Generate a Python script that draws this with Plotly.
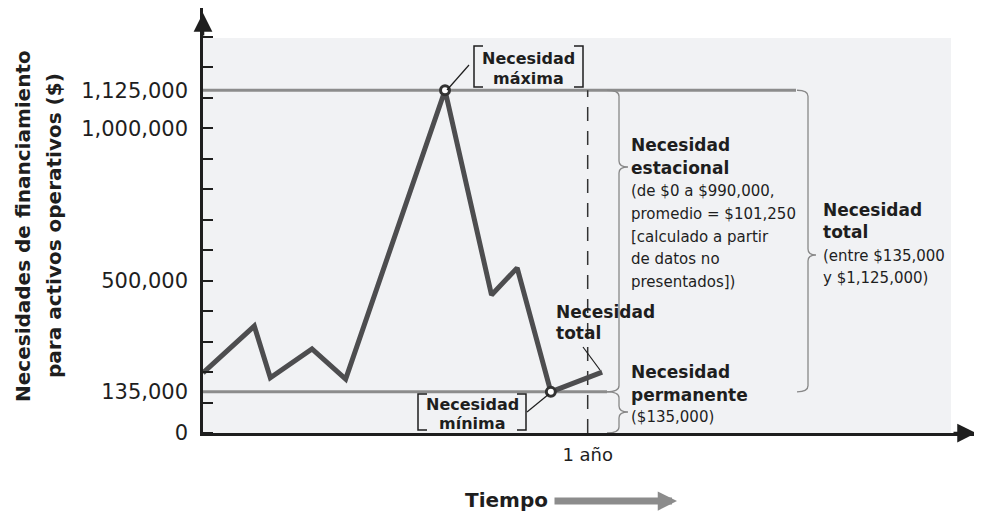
import plotly.graph_objects as go

# meses dentro del periodo y necesidad de financiamiento ($)
meses = [0, 1.6, 2.1, 3.4, 4.45, 7.55, 9.0, 9.8, 10.85, 12.45]
necesidad = [197000, 351000, 181000, 276000, 177000, 1125000, 453000, 542000, 135000, 200000]

necesidad_max = 1125000
necesidad_min = 135000
mes_max = 7.55
mes_min = 10.85
un_anio = 12

y_ticks = [0, 135000, 500000, 1000000, 1125000]
y_tick_text = ['0', '135,000', '500,000', '1,000,000', '1,125,000']

# plot area on the page (px) and axis ranges; page body adds an 8px offset
L, R, T, B = 203, 982, 8, 433
OFF = 8
XMAX = 24.3
YMAX = 1395000
FONT = 'DejaVu Sans'
INK = '#1e1e1e'


def X(px):
    return (px - L) / (R - L) * XMAX


def Y(py):
    return (B - py) / (B - T) * YMAX


def PX(px):
    return (px - L) / (R - L)


def PY(py):
    return (B - py) / (B - T)


fig = go.Figure()

# gray background panel
fig.add_shape(type='rect', x0=0, x1=X(951), y0=0, y1=Y(38), fillcolor='#f1f2f4',
              line_width=0, layer='below')
# permanent / max levels
fig.add_shape(type='line', x0=0, x1=X(796), y0=necesidad_max, y1=necesidad_max,
              line=dict(color='#8c8c8c', width=3), layer='below')
fig.add_shape(type='line', x0=0, x1=X(607), y0=necesidad_min, y1=necesidad_min,
              line=dict(color='#8c8c8c', width=3), layer='below')
# 1 year dashed line
fig.add_shape(type='line', x0=un_anio, x1=un_anio, y0=0, y1=necesidad_max,
              line=dict(color='#333333', width=1.5, dash='14px,10px'), layer='below')

fig.add_trace(go.Scatter(x=meses, y=necesidad, mode='lines',
                         line=dict(color='#4d4d4f', width=5), hoverinfo='skip'))
fig.add_trace(go.Scatter(x=[mes_max, mes_min], y=[necesidad_max, necesidad_min], mode='markers',
                         marker=dict(size=9, color='white', line=dict(color='#333333', width=3)),
                         hoverinfo='skip'))


def brace(xb, xl, xt, yt, yb, ytip, r=6):
    # right curly brace, x in px, y in data
    d = r / (B - T) * YMAX
    xb, xl, xt = X(xb), X(xl), X(xt)
    p = (f'M{xb},{yt} Q{xl},{yt} {xl},{yt - d} L{xl},{ytip + d} '
         f'Q{xl},{ytip} {xt},{ytip} Q{xl},{ytip} {xl},{ytip - d} '
         f'L{xl},{yb + d} Q{xl},{yb} {xb},{yb}')
    fig.add_shape(type='path', path=p, line=dict(color='#888888', width=1.3))


brace(607, 619, 628, necesidad_max, necesidad_min, Y(167))
brace(607, 619, 628, necesidad_min, 0, Y(412))
brace(797, 808, 816, necesidad_max, necesidad_min, Y(255))


def brackets(x0, x1, y0, y1, cap=9):
    left = f'M{X(x0 + cap)},{Y(y0)} L{X(x0)},{Y(y0)} L{X(x0)},{Y(y1)} L{X(x0 + cap)},{Y(y1)}'
    right = f'M{X(x1 - cap)},{Y(y0)} L{X(x1)},{Y(y0)} L{X(x1)},{Y(y1)} L{X(x1 - cap)},{Y(y1)}'
    for p in (left, right):
        fig.add_shape(type='path', path=p, line=dict(color=INK, width=1.5))


brackets(474, 583, 46, 87)
brackets(418, 526, 394, 430)

# leader lines
for (a, b, c, d) in [(447, 90, 469, 65), (549, 394, 527, 412), (583, 347, 600, 370)]:
    fig.add_shape(type='line', x0=X(a), y0=Y(b), x1=X(c), y1=Y(d), line=dict(color=INK, width=1.2))


def txt(px, py, s, size=15, bold=False, anchor='left'):
    if bold:
        s = '<b>' + s + '</b>'
    fig.add_annotation(x=X(px), y=Y(py), text=s, showarrow=False, xanchor=anchor,
                       yanchor='middle', font=dict(family=FONT, size=size, color=INK),
                       borderpad=0)


txt(528, 58, 'Necesidad', 16, True, 'center')
txt(528, 78, 'máxima', 16, True, 'center')
txt(472, 404, 'Necesidad', 16, True, 'center')
txt(472, 423, 'mínima', 16, True, 'center')

txt(630, 145, 'Necesidad', 17, True)
txt(630, 168, 'estacional', 17, True)
for py, s in [(191, '(de $0 a $990,000,'), (214, 'promedio = $101,250'),
              (237, '[calculado a partir'), (259, 'de datos no'), (282, 'presentados])')]:
    txt(630, py, s, 15)

txt(555, 312, 'Necesidad', 17, True)
txt(555, 333, 'total', 17, True)

txt(630, 372, 'Necesidad', 17, True)
txt(630, 395, 'permanente', 17, True)
txt(630, 417, '($135,000)', 15)

txt(822, 210, 'Necesidad', 17, True)
txt(822, 232, 'total', 17, True)
txt(822, 256, '(entre $135,000', 15)
txt(822, 278, 'y $1,125,000)', 15)

# axis title
for px, s in [(23, 'Necesidades de financiamiento'), (54, 'para activos operativos ($)')]:
    fig.add_annotation(x=PX(px), y=PY(226), xref='paper', yref='paper',
                       xanchor='center', yanchor='middle',
                       text='<b>' + s + '</b>', textangle=-90, showarrow=False,
                       font=dict(family=FONT, size=20, color=INK))

# Tiempo + gray arrow
fig.add_annotation(x=PX(506), y=PY(500), xref='paper', yref='paper', xanchor='center',
                   yanchor='middle', text='<b>Tiempo</b>', showarrow=False,
                   font=dict(family=FONT, size=20, color=INK))
fig.add_annotation(x=PX(677), y=PY(501), xref='paper', yref='paper',
                   text='', showarrow=True, ax=-124, ay=0, arrowhead=2, arrowsize=0.55,
                   arrowwidth=7, arrowcolor='#8c8c8c')

# axis arrowheads
fig.add_annotation(x=X(976), y=0, text='', showarrow=True, ax=-24, ay=0, arrowhead=2,
                   arrowsize=1.5, arrowwidth=2.5, arrowcolor=INK)
fig.add_annotation(x=0, y=Y(13), text='', showarrow=True, ax=0, ay=24, arrowhead=2,
                   arrowsize=1.5, arrowwidth=2.5, arrowcolor=INK)

fig.update_xaxes(range=[0, XMAX], showgrid=False, zeroline=False, showline=True,
                 linecolor=INK, linewidth=2.5, tickvals=[un_anio], ticktext=['1 año'],
                 ticks='', ticklabelstandoff=4, tickfont=dict(family=FONT, size=18, color=INK))
fig.update_yaxes(range=[0, YMAX], showgrid=False, zeroline=False, showline=True,
                 linecolor=INK, linewidth=2.5, tickvals=y_ticks, ticktext=y_tick_text,
                 ticks='', ticklabelstandoff=8, tickfont=dict(family=FONT, size=21, color=INK),
                 minor=dict(tick0=0, dtick=100000, ticks='inside', ticklen=10, tickwidth=2,
                            tickcolor=INK))

fig.update_layout(width=982, height=512,
                  margin=dict(l=L - OFF, r=982 - R + OFF, t=T - OFF, b=512 - B + OFF,
                              autoexpand=False),
                  paper_bgcolor='white', plot_bgcolor='white', showlegend=False)

fig.write_html('out.html')
